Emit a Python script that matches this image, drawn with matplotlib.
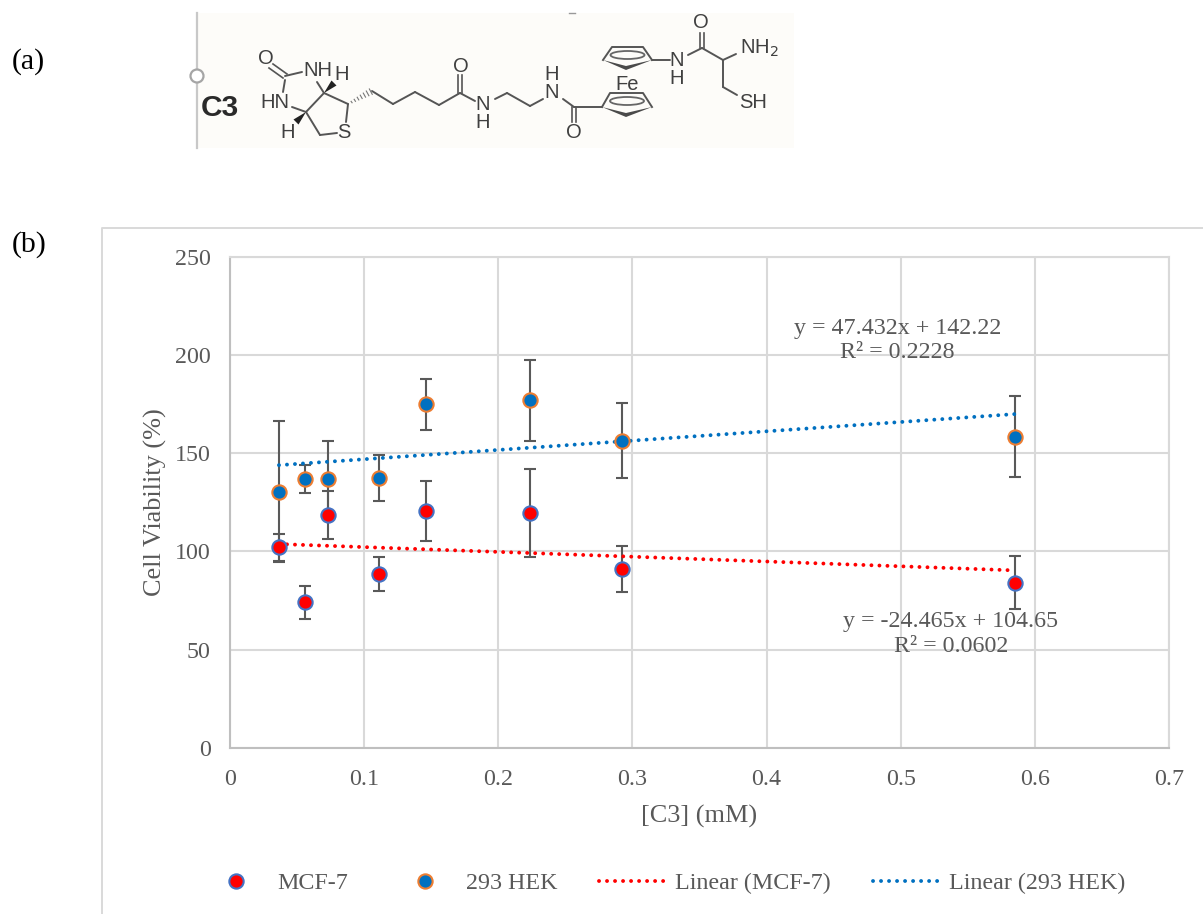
import matplotlib
matplotlib.use("Agg")
import matplotlib.pyplot as plt
import numpy as np
from matplotlib.lines import Line2D
from matplotlib.patches import Circle, Ellipse, Polygon, Rectangle

# data
conc = [0.0365, 0.056, 0.073, 0.111, 0.146, 0.224, 0.292, 0.585]
mcf7 = [102, 74, 118.5, 88.5, 120.5, 119.5, 91, 84]
mcf7_err = [7, 8.5, 12.3, 8.7, 15.3, 22.5, 11.7, 13.5]
hek = [130.5, 137, 137, 137.5, 175, 177, 156.5, 158.5]
hek_err = [36, 7, 19.5, 11.7, 13, 20.7, 19, 20.5]

# trendlines as printed on the chart
mcf7_fit = (-24.465, 104.65)
hek_fit = (47.432, 142.22)

x_ticks = [0, 0.1, 0.2, 0.3, 0.4, 0.5, 0.6, 0.7]
x_tick_labels = ["0", "0.1", "0.2", "0.3", "0.4", "0.5", "0.6", "0.7"]
y_ticks = [0, 50, 100, 150, 200, 250]

# structure drawing in panel (a), image pixels
bonds = [
    ((285, 76), (302, 72)), ((285, 80), (283, 92)), ((292, 107), (306, 112)),
    ((306, 112), (324, 93)), ((317, 82), (324, 93)), ((324, 93), (348, 104)),
    ((348, 104), (346, 122)), ((337, 133), (320, 135)), ((320, 135), (306, 112)),
    ((372, 91), (393, 104)), ((393, 104), (415, 92)), ((415, 92), (439, 105)),
    ((439, 105), (460, 93)), ((460, 93), (475, 101)),
    ((495, 99), (507, 93)), ((507, 93), (530, 106)), ((530, 106), (543, 99)),
    ((563, 99), (574, 107)), ((574, 107), (602, 107)),
    ((652, 60), (670, 60)), ((688, 55), (702, 48)), ((702, 48), (723, 60)),
    ((723, 60), (736, 54)), ((723, 60), (723, 87)), ((723, 87), (737, 95)),
]
double_bonds = [
    ((271, 66), (285, 76), 2, -2), ((460, 93), (460, 75), 2, 0),
    ((574, 107), (574, 122), 2, 0), ((702, 48), (702, 33), 2, 0),
]
wedges = [((324, 93), (334, 83)), ((306, 112), (296, 122))]
hashed = ((348, 104), (372, 91))
rings = [
    [(602, 107), (610, 93), (643, 93), (652, 107), (626, 117)],
    [(603, 60), (612, 47), (643, 47), (652, 60), (626, 70)],
]
atoms = [
    ("O", 266, 58), ("NH", 318, 71), ("H", 342, 74), ("HN", 275, 102),
    ("H", 288, 133), ("S", 344, 132), ("O", 461, 67), ("N", 483, 105),
    ("H", 483, 123), ("N", 552, 93), ("H", 552, 75), ("O", 574, 133),
    ("Fe", 627, 84), ("N", 677, 60), ("H", 677, 79), ("O", 701, 22),
    ("SH", 753, 102),
]

GREY = "#595959"
SERIF = "Liberation Serif"
FS = 17.3
TITLE_FS = 18.9

fig = plt.figure(figsize=(12.03, 9.14), dpi=100)

# pixel overlay for the panel letters, frame and structure
bg = fig.add_axes([0, 0, 1, 1], zorder=0)
bg.set_xlim(0, 1203)
bg.set_ylim(914, 0)
bg.axis("off")

bg.text(12, 62, "(a)", family=SERIF, fontsize=21.5, color="black", va="center")
bg.text(12, 245, "(b)", family=SERIF, fontsize=21.5, color="black", va="center")
bg.plot([101.5, 101.5, 1203], [914, 227.5, 227.5], color="#D9D9D9", lw=1.4)

bg.add_patch(Rectangle((197, 13), 597, 135, fc="#FDFCF9", ec="none"))
bg.plot([196.5, 196.5], [13, 148], color="#C8C8C8", lw=1.6)
bg.add_patch(Circle((197, 76), 6.5, fc="white", ec="#A5A5A5", lw=1.6, zorder=3))
bg.plot([569, 575], [13, 13], color="#999999", lw=1)
bg.text(220, 108, "C3", family="Liberation Sans", weight="bold", fontsize=21.5,
        color="#2A2A2A", ha="center", va="center")

BOND = "#555555"
for a, b in bonds:
    bg.plot([a[0], b[0]], [a[1], b[1]], color=BOND, lw=1.4, solid_capstyle="round")
for a, b, dx, dy in double_bonds:
    bg.plot([a[0] - dx, b[0] - dx], [a[1] - dy, b[1] - dy], color=BOND, lw=1.2)
    bg.plot([a[0] + dx, b[0] + dx], [a[1] + dy, b[1] + dy], color=BOND, lw=1.2)
for a, b in wedges:
    bg.add_patch(Polygon([a, (b[0] - 2.5, b[1] - 2.5), (b[0] + 2.5, b[1] + 2.5)],
                         fc="#222222", ec="none"))
for t in np.linspace(0.15, 0.95, 7):
    hx = hashed[0][0] + t * (hashed[1][0] - hashed[0][0])
    hy = hashed[0][1] + t * (hashed[1][1] - hashed[0][1])
    bg.plot([hx - 1.2 * t - 0.3, hx + 1.2 * t + 0.3],
            [hy - 2.5 * t - 0.3, hy + 2.5 * t + 0.3], color="#777777", lw=0.8)
for ring in rings:
    left, tl, tr, right, bottom = ring
    bg.plot([left[0], tl[0], tr[0], right[0]], [left[1], tl[1], tr[1], right[1]],
            color=BOND, lw=1.4)
    bg.add_patch(Polygon([left, bottom, right, (bottom[0], bottom[1] - 4)],
                         fc="#4A4A4A", ec="none"))
    bg.add_patch(Ellipse(((left[0] + right[0]) / 2, tl[1] + 8), 34, 8,
                         fc="none", ec="#666666", lw=1.3))
for label, ax_x, ax_y in atoms:
    bg.text(ax_x, ax_y, label, family="Liberation Sans", fontsize=14.5, color="#404040",
            ha="center", va="center")
bg.text(740, 48, "NH$_2$", family="Liberation Sans", fontsize=14.5, color="#404040",
        ha="left", va="center", math_fontfamily="dejavusans")

# chart
ax = fig.add_axes([230 / 1203, 1 - 747.7 / 914, 939 / 1203, 490.7 / 914], zorder=1)
ax.patch.set_alpha(0)
ax.set_xlim(0, 0.7)
ax.set_ylim(0, 250)
ax.set_xticks(x_ticks, x_tick_labels)
ax.set_yticks(y_ticks)
ax.grid(True, color="#D9D9D9", lw=1.5)
ax.set_axisbelow(True)
for side, spine in ax.spines.items():
    spine.set_linewidth(1.5)
    spine.set_color("#BFBFBF" if side in ("left", "bottom") else "#D9D9D9")
ax.tick_params(axis="y", length=0, pad=14, labelsize=FS, labelcolor=GREY)
ax.tick_params(axis="x", length=0, pad=15, labelsize=FS, labelcolor=GREY)
for lab in ax.get_xticklabels() + ax.get_yticklabels():
    lab.set_family(SERIF)

ax.errorbar(conc, mcf7, yerr=mcf7_err, fmt="none", ecolor=GREY, elinewidth=1.5,
            capsize=4.3, capthick=1.5, zorder=2)
ax.errorbar(conc, hek, yerr=hek_err, fmt="none", ecolor=GREY, elinewidth=1.5,
            capsize=4.3, capthick=1.5, zorder=2)

dots = (0, (0.01, 2.05))
x_ends = np.array([min(conc), max(conc)])
ax.plot(x_ends, mcf7_fit[0] * x_ends + mcf7_fit[1], color="#FF0000", lw=2.8,
        ls=dots, dash_capstyle="round", zorder=3)
ax.plot(x_ends, hek_fit[0] * x_ends + hek_fit[1], color="#0070C0", lw=2.8,
        ls=dots, dash_capstyle="round", zorder=3)

ax.plot(conc, mcf7, "o", ms=10.3, mfc="#FF0000", mec="#4472C4", mew=1.5, zorder=4)
ax.plot(conc, hek, "o", ms=10.3, mfc="#0070C0", mec="#ED7D31", mew=1.5, zorder=4)

ax.set_xlabel("[C3] (mM)", family=SERIF, fontsize=TITLE_FS, color=GREY, labelpad=11)
ax.set_ylabel("Cell Viability (%)", family=SERIF, fontsize=TITLE_FS, color=GREY, labelpad=5.5)

ax.text(0.4975, 207.3, "y = 47.432x + 142.22\nR² = 0.2228", family=SERIF, fontsize=FS,
        color=GREY, ha="center", va="center", linespacing=1.18, zorder=5)
ax.text(0.5375, 58, "y = -24.465x + 104.65\nR² = 0.0602", family=SERIF, fontsize=FS,
        color=GREY, ha="center", va="center", linespacing=1.24, zorder=5)

handles = [
    Line2D([], [], ls="none", marker="o", ms=10.3, mfc="#FF0000", mec="#4472C4", mew=1.5),
    Line2D([], [], ls="none", marker="o", ms=10.3, mfc="#0070C0", mec="#ED7D31", mew=1.5),
    Line2D([], [], color="#FF0000", lw=2.8, ls=dots, dash_capstyle="round"),
    Line2D([], [], color="#0070C0", lw=2.8, ls=dots, dash_capstyle="round"),
]
labels = ["MCF-7", "293 HEK", "Linear (MCF-7)", "Linear (293 HEK)"]
px = FS * 100 / 72
fig.legend(handles, labels, ncol=4, loc="center", bbox_to_anchor=(663 / 1203, 1 - 883 / 914),
           frameon=False, handlelength=70 / px, handletextpad=6 / px, columnspacing=42 / px,
           labelcolor=GREY, prop={"family": SERIF, "size": FS}, borderpad=0)

fig.savefig("out.png", dpi=100)
